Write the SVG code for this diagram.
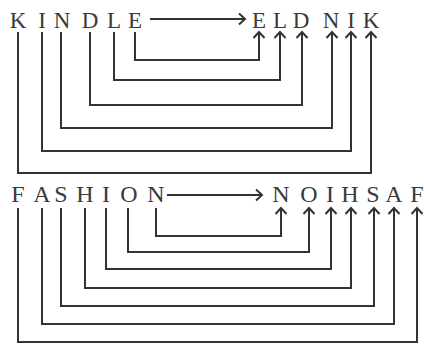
<svg xmlns="http://www.w3.org/2000/svg" width="424" height="345" viewBox="0 0 424 345">
<style>
text{font-family:"Liberation Serif","Times New Roman",serif;fill:#3a3a3a;text-anchor:middle}
.t{font-size:23px}
.b{font-size:24px}
.c path{fill:none;stroke:#333;stroke-width:2}
</style>
<defs>
<marker id="ah" viewBox="-9 -7 11 14" markerWidth="11" markerHeight="14" refX="0" refY="0" orient="auto" markerUnits="userSpaceOnUse">
<path d="M-6,-5.5 L0,0 L-6,5.5" fill="none" stroke="#333" stroke-width="2"/>
</marker>
</defs>
<rect width="424" height="345" fill="#fff"/>
<g id="kindle">
<text class="t" x="18" y="28">K</text>
<text class="t" x="42" y="28">I</text>
<text class="t" x="62" y="28">N</text>
<text class="t" x="90" y="28">D</text>
<text class="t" x="114" y="28">L</text>
<text class="t" x="135" y="28">E</text>
</g>
<g id="eldnik">
<text class="t" x="259" y="28">E</text>
<text class="t" x="280" y="28">L</text>
<text class="t" x="301" y="28">D</text>
<text class="t" x="331" y="28">N</text>
<text class="t" x="351" y="28">I</text>
<text class="t" x="371" y="28">K</text>
</g>
<g id="fashion">
<text class="b" x="18" y="202">F</text>
<text class="b" x="42" y="202">A</text>
<text class="b" x="61" y="202">S</text>
<text class="b" x="85" y="202">H</text>
<text class="b" x="106" y="202">I</text>
<text class="b" x="129" y="202">O</text>
<text class="b" x="156" y="202">N</text>
</g>
<g id="noihsaf">
<text class="b" x="281" y="202">N</text>
<text class="b" x="309" y="202">O</text>
<text class="b" x="330" y="202">I</text>
<text class="b" x="350" y="202">H</text>
<text class="b" x="373" y="202">S</text>
<text class="b" x="394" y="202">A</text>
<text class="b" x="417" y="202">F</text>
</g>
<g id="connectors" class="c">
<path d="M150 19 H245" marker-end="url(#ah)"/>
<path d="M135 32 V60 H259 V32" marker-end="url(#ah)"/>
<path d="M114 32 V80 H280 V32" marker-end="url(#ah)"/>
<path d="M90 32 V105 H302 V32" marker-end="url(#ah)"/>
<path d="M61 32 V128 H332 V32" marker-end="url(#ah)"/>
<path d="M42 32 V151 H351 V32" marker-end="url(#ah)"/>
<path d="M18 32 V173 H371 V32" marker-end="url(#ah)"/>
<path d="M167 195 H262" marker-end="url(#ah)"/>
<path d="M156 208 V236 H281 V208" marker-end="url(#ah)"/>
<path d="M128 208 V252 H309 V208" marker-end="url(#ah)"/>
<path d="M106 208 V269 H331 V208" marker-end="url(#ah)"/>
<path d="M85 208 V288 H351 V208" marker-end="url(#ah)"/>
<path d="M61 208 V306 H374 V208" marker-end="url(#ah)"/>
<path d="M42 208 V324 H394 V208" marker-end="url(#ah)"/>
<path d="M18 208 V342 H417 V208" marker-end="url(#ah)"/>
</g>
</svg>
